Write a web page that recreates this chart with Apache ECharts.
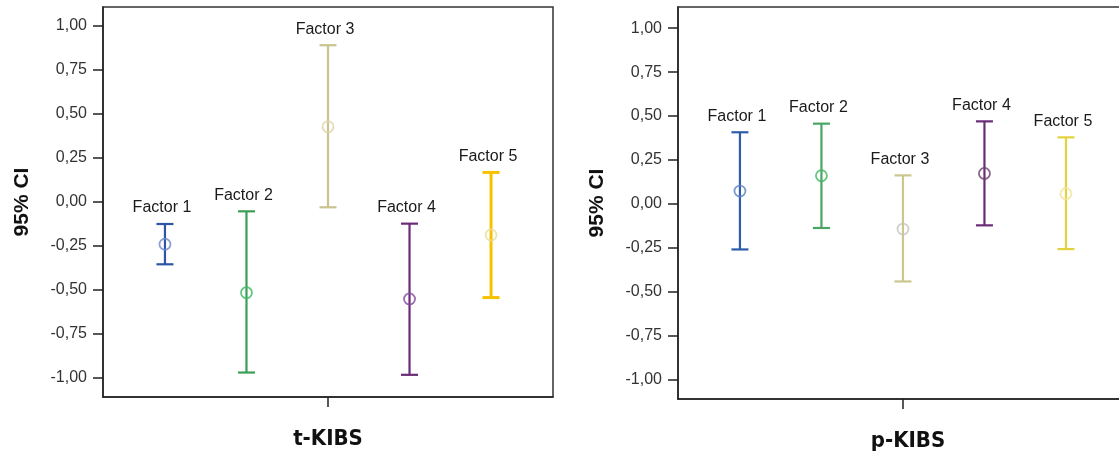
<!DOCTYPE html>
<html>
<head>
<meta charset="utf-8">
<script src="https://cdn.jsdelivr.net/npm/echarts@6/dist/echarts.min.js"></script>
<style>html,body{margin:0;padding:0;background:#fff;}#c{width:1119px;height:459px;}</style>
</head>
<body>
<div id="c"></div>
<script>
// ---- data ----
const factors = ['Factor 1', 'Factor 2', 'Factor 3', 'Factor 4', 'Factor 5'];
const yTicks = [-1, -0.75, -0.5, -0.25, 0, 0.25, 0.5, 0.75, 1];
// t-KIBS
const tMean  = [-0.24, -0.515, 0.428, -0.551, -0.187];
const tLower = [-0.354, -0.969, -0.030, -0.982, -0.543];
const tUpper = [-0.125, -0.053, 0.891, -0.123, 0.168];
// p-KIBS
const pMean  = [0.074, 0.161, -0.142, 0.174, 0.059];
const pLower = [-0.258, -0.136, -0.440, -0.121, -0.256];
const pUpper = [0.408, 0.457, 0.163, 0.470, 0.379];

const barColorsT  = ['#2d55a6', '#3a9e57', '#c9c48f', '#6a2c78', '#f6c200'];
const barColorsP  = ['#2d5cab', '#4aa464', '#cbc78f', '#6a2c78', '#e2d33c'];
const meanColorsT = ['#6f8ac8', '#3fb862', '#ddd3a6', '#80479a', '#e6dca0'];
const meanColorsP = ['#5b7fc6', '#3fb862', '#c4c4bc', '#6a3f6a', '#f0e49a'];

const chart = echarts.init(document.getElementById('c'));
const fmt = v => v.toFixed(2).replace('.', ',');

function makeErr(lower, upper, colors, gi) {
  return {
    type: 'custom', xAxisIndex: gi, yAxisIndex: gi,
    data: factors.map((f, i) => [i - 2, lower[i], upper[i]]),
    renderItem: function (params, api) {
      const x = api.value(0);
      const lo = api.coord([x, api.value(1)]);
      const hi = api.coord([x, api.value(2)]);
      const c = colors[params.dataIndex];
      const w = 8.5;
      const st = { stroke: c, lineWidth: params.dataIndex === 4 && gi === 0 ? 3 : 2.2 };
      return {
        type: 'group', children: [
          { type: 'line', shape: { x1: lo[0], y1: lo[1], x2: hi[0], y2: hi[1] }, style: st },
          { type: 'line', shape: { x1: hi[0] - w, y1: hi[1], x2: hi[0] + w, y2: hi[1] }, style: st },
          { type: 'line', shape: { x1: lo[0] - w, y1: lo[1], x2: lo[0] + w, y2: lo[1] }, style: st },
          { type: 'text', style: { text: factors[params.dataIndex], x: hi[0] - 3, y: hi[1] - 16,
              textAlign: 'center', textVerticalAlign: 'middle',
              font: '16px "Liberation Sans", Arial, sans-serif', fill: '#1a1a1a' } }
        ]
      };
    }
  };
}
function makeMean(mean, colors, gi) {
  return {
    type: 'scatter', xAxisIndex: gi, yAxisIndex: gi,
    symbol: 'circle', symbolSize: 11,
    data: mean.map((m, i) => ({ value: [i - 2, m], itemStyle: { color: 'rgba(255,255,255,0)', borderColor: colors[i], borderWidth: 1.8 } })),
    z: 5
  };
}
function xAx(gi, name, max) {
  return {
    type: 'value', gridIndex: gi, min: -2.76, max: max,
    splitLine: { show: false },
    axisLine: { show: true, onZero: false, lineStyle: { color: '#222', width: 1.5 } },
    axisTick: { show: true, customValues: [0], length: 10, lineStyle: { color: '#222', width: 1.5 } },
    axisLabel: { show: false },
    name: name, nameLocation: 'middle', nameGap: 31,
    nameTextStyle: { fontFamily: '"Liberation Sans Narrow", "DejaVu Sans Condensed", sans-serif', fontWeight: 'bold', fontSize: 22, color: '#111' }
  };
}
function yAx(gi, min, max) {
  return {
    type: 'value', gridIndex: gi, min: min, max: max,
    splitLine: { show: false },
    axisLine: { show: true, onZero: false, lineStyle: { color: '#222', width: 1.5 } },
    axisTick: { show: true, customValues: yTicks, length: 10, lineStyle: { color: '#222', width: 1.5 } },
    axisLabel: { show: true, customValues: yTicks, formatter: fmt, margin: 16,
      fontFamily: '"Liberation Sans", Arial, sans-serif', fontSize: 16, color: '#333' },
    name: '95% CI', nameLocation: 'middle', nameGap: 70, nameRotate: 90,
    nameTextStyle: { fontFamily: '"Liberation Sans", Arial, sans-serif', fontWeight: 'bold', fontSize: 21, color: '#111' }
  };
}

chart.setOption({
  animation: false,
  backgroundColor: '#fff',
  grid: [
    { left: 103, top: 7, width: 450, height: 390, show: true, borderColor: '#333', borderWidth: 1.5, backgroundColor: 'transparent', outerBoundsMode: 'none', containLabel: false },
    { left: 678, top: 7, width: 460, height: 392, show: true, borderColor: '#333', borderWidth: 1.5, backgroundColor: 'transparent', outerBoundsMode: 'none', containLabel: false }
  ],
  xAxis: [xAx(0, 't-KIBS', 2.76), xAx(1, 'p-KIBS', 2.884)],
  yAxis: [yAx(0, -1.108, 1.108), yAx(1, -1.108, 1.12)],
  series: [
    makeErr(tLower, tUpper, barColorsT, 0),
    makeMean(tMean, meanColorsT, 0),
    makeErr(pLower, pUpper, barColorsP, 1),
    makeMean(pMean, meanColorsP, 1)
  ]
});
</script>
</body>
</html>
